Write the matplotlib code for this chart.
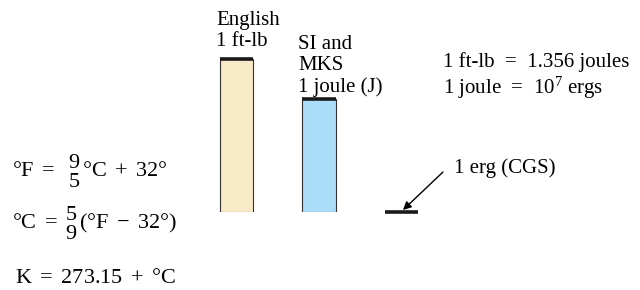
import matplotlib
matplotlib.use("Agg")
from matplotlib import pyplot as plt

# energy units expressed in joules
systems = ["English", "SI", "CGS"]
energy_joules = [1.356, 1.0, 1e-7]
fill_colors = ["#f8eac6", "#a9ddf8", "#ffffff"]

plt.rcParams['font.family'] = ['Liberation Serif', 'DejaVu Serif']
plt.rcParams['mathtext.fontset'] = 'custom'
plt.rcParams['mathtext.rm'] = 'Liberation Serif'
plt.rcParams['mathtext.it'] = 'Liberation Serif:italic'

fig = plt.figure(figsize=(6.4, 2.9), dpi=100)

# bars
ax = fig.add_axes([0.3051, 0.269, 0.3867, 0.7014])
xs = range(len(systems))
ax.bar(xs[:2], energy_joules[:2], width=0.41, color=fill_colors[:2],
       edgecolor="#333333", linewidth=0.8)
ax.hlines(energy_joules, [x - 0.205 for x in xs], [x + 0.205 for x in xs],
          colors="#1a1a1a", linewidth=2.6, clip_on=False)
ax.set_xlim(-0.5, 2.5)
ax.set_ylim(0, 1.8)
ax.axis("off")

# text layer in pixel coords
tx = fig.add_axes([0, 0, 1, 1])
tx.set_xlim(0, 640)
tx.set_ylim(290, 0)
tx.axis("off")

fs = 15
tx.text(216, 25.5, "English", fontsize=fs, va="baseline")
tx.text(216, 46.5, "1 ft-lb", fontsize=fs, va="baseline")
tx.text(298, 49, "SI and", fontsize=fs, va="baseline")
tx.text(298, 70.5, "MKS", fontsize=fs, va="baseline")
tx.text(298, 92, "1 joule (J)", fontsize=fs, va="baseline")

tx.text(443, 67, "1 ft-lb  =  1.356 joules", fontsize=fs, va="baseline")
tx.text(443, 94, "1 joule  =  10$^7$ ergs", fontsize=fs, va="baseline")
tx.text(454, 173, "1 erg (CGS)", fontsize=fs, va="baseline")
tx.annotate("", xy=(403, 210), xytext=(443, 172),
            arrowprops=dict(arrowstyle="-|>", color="black", lw=1.0,
                            mutation_scale=12, shrinkA=0, shrinkB=0))

efs = 16
tx.text(12, 177, r"$°\mathrm{F}\ =\ \ \genfrac{}{}{0}{0}{9}{5}°\mathrm{C}\ +\ 32°$",
        fontsize=efs, va="baseline")
tx.text(12, 229, r"$°\mathrm{C}\ =\ \genfrac{}{}{0}{0}{5}{9}(°\mathrm{F}\ -\ 32°)$",
        fontsize=efs, va="baseline")
tx.text(15, 283, r"$\mathrm{K}\ =\ 273.15\ +\ °\mathrm{C}$",
        fontsize=efs, va="baseline")

fig.savefig("out.png", dpi=100)
